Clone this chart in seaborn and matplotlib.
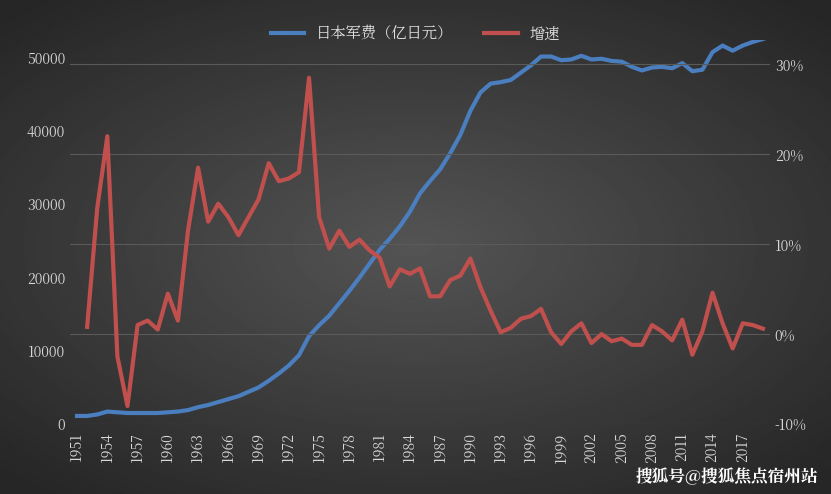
import numpy as np
import pandas as pd
import matplotlib
matplotlib.use("Agg")
import matplotlib.pyplot as plt
from matplotlib import font_manager
import seaborn as sns

cjk = None
for f in font_manager.fontManager.ttflist:
    if "CJK" in f.name and ("SC" in f.name or cjk is None):
        cjk = f.name
plt.rcParams["font.family"] = [cjk, "DejaVu Sans"] if cjk else ["DejaVu Sans"]

years = list(range(1951, 2020))
spending = [1100, 1100, 1300, 1700, 1600, 1500, 1500, 1500, 1500, 1600, 1700, 1900, 2300, 2600,
            3000, 3400, 3800, 4400, 5000, 5900, 6900, 8000, 9400, 12000, 13500, 14800, 16500,
            18200, 20000, 21900, 23800, 25300, 27000, 29000, 31500, 33200, 34800, 37000, 39500,
            42800, 45300, 46500, 46700, 47000, 48000, 49000, 50200, 50200, 49700, 49800, 50300,
            49800, 49900, 49600, 49500, 48800, 48300, 48700, 48800, 48600, 49300, 48200, 48400,
            50800, 51700, 51000, 51700, 52200, 52600]
growth_years = list(range(1952, 2020))
growth = [0.8, 14, 22, -2.5, -8, 1, 1.5, 0.5, 4.5, 1.5,
          11.5, 18.5, 12.5, 14.5, 13, 11, 13, 15, 19, 17,
          17.3, 18, 28.5, 13, 9.5, 11.5, 9.7, 10.5, 9.3, 8.5,
          5.3, 7.2, 6.7, 7.3, 4.2, 4.2, 6, 6.5, 8.4, 5.2,
          2.6, 0.2, 0.7, 1.7, 2, 2.8, 0.2, -1.1, 0.3, 1.2,
          -1, 0, -0.8, -0.5, -1.2, -1.2, 1, 0.3, -0.7, 1.6,
          -2.3, 0.3, 4.6, 1.2, -1.6, 1.2, 1.0, 0.6]
tick_years = list(range(1951, 2018, 3))
left_ticks = [0, 10000, 20000, 30000, 40000, 50000]
right_ticks = [-10, 0, 10, 20, 30]

df1 = pd.DataFrame({"year": years, "v": spending})
df2 = pd.DataFrame({"year": growth_years, "g": growth})

fig = plt.figure(figsize=(8.31, 4.94), dpi=100)
bg = fig.add_axes([0, 0, 1, 1], zorder=-10)
yy, xx = np.mgrid[-1:1:300j, -1:1:500j]
r = np.sqrt((xx * 0.9) ** 2 + (yy * 1.0) ** 2)
bg.imshow(np.clip(0.33 - 0.14 * r, 0.15, 0.35), cmap="gray", vmin=0, vmax=1, aspect="auto",
          extent=[0, 1, 0, 1])
bg.axis("off")

ax = fig.add_axes([70 / 831, 70 / 494, 700 / 831, 384 / 494])
ax.set_facecolor("none")
ax2 = ax.twinx()

sns.lineplot(data=df1, x="year", y="v", ax=ax, color="#4a7ebf", linewidth=3, label="日本军费（亿日元）", legend=False)
sns.lineplot(data=df2, x="year", y="g", ax=ax2, color="#c0504d", linewidth=3, label="增速", legend=False)

ax.set_xlim(1950.3, 2019.7)
ax.set_ylim(0, 52460)
ax2.set_ylim(-10, 32.7)
ax.set_xticks(tick_years)
ax.set_xticklabels([str(y) for y in tick_years], rotation=90, color="#d9d9d9", fontsize=10)
ax.set_yticks(left_ticks)
ax.set_yticklabels([str(v) for v in left_ticks], color="#d9d9d9", fontsize=10)
ax2.set_yticks(right_ticks)
ax2.set_yticklabels([f"{v}%" for v in right_ticks], color="#d9d9d9", fontsize=10)
ax2.grid(axis="y", color="#5a5a5a", linewidth=0.8)
ax2.set_axisbelow(True)
for a in (ax, ax2):
    a.set_xlabel("")
    a.set_ylabel("")
    a.tick_params(length=0)
    for s in a.spines.values():
        s.set_visible(False)
ax.tick_params(axis="x", pad=6)

h1, l1 = ax.get_legend_handles_labels()
h2, l2 = ax2.get_legend_handles_labels()
fig.legend(h1 + h2, l1 + l2, loc="upper center", bbox_to_anchor=(0.5, 0.975), ncol=2,
           frameon=False, labelcolor="#e0e0e0", fontsize=11, handlelength=2.2)

fig.text(0.985, 0.015, "搜狐号@搜狐焦点宿州站", ha="right", va="bottom", color="white",
         fontsize=12, fontweight="bold")

fig.savefig("out.png", dpi=100)
